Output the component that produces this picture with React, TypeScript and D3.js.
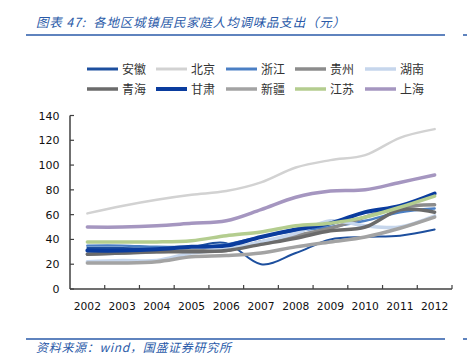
import React from "react";
import * as d3 from "d3";

const years = ["2002","2003","2004","2005","2006","2007","2008","2009","2010","2011","2012"];
const yTicks = [0, 20, 40, 60, 80, 100, 120, 140];

const anhui    = [33, 33, 33, 34, 37, 20, 29, 40, 42, 43, 48];
const beijing  = [61, 67, 72, 76, 79, 86, 98, 104, 108, 122, 129];
const zhejiang = [35, 35, 34, 34, 36, 42, 47, 50, 55, 62, 65];
const guizhou  = [28, 29, 30, 31, 31, 38, 43, 49, 58, 66, 68];
const hunan    = [22, 23, 23, 29, 32, 38, 45, 55, 51, 50, 59];
const qinghai  = [28, 29, 30, 30, 31, 36, 41, 47, 50, 64, 62];
const gansu    = [31, 31, 32, 34, 35, 42, 48, 53, 62, 67, 77];
const xinjiang = [21, 21, 22, 26, 27, 29, 34, 38, 42, 49, 58];
const jiangsu  = [38, 38, 38, 39, 43, 46, 51, 53, 58, 66, 75];
const shanghai = [50, 50, 51, 53, 55, 64, 74, 79, 80, 86, 92];

const seriesNames = ["安徽","北京","浙江","贵州","湖南","青海","甘肃","新疆","江苏","上海"];
const seriesValues = [anhui, beijing, zhejiang, guizhou, hunan, qinghai, gansu, xinjiang, jiangsu, shanghai];
const seriesColors = ["#1d4f9e","#d2d2d2","#4b7fc4","#8c8c8c","#c6d6ec","#6b6b6b","#0a3c9e","#a3a3a3","#b4cd8f","#a596c0"];
const seriesWidths = [2, 2.5, 2.5, 3.5, 3.5, 3.5, 4, 3.5, 3.5, 3.5];

export default function App() {
  const W = 467, H = 358;
  const x = d3.scaleBand<string>().domain(years).range([70, 452]);
  const y = d3.scaleLinear().domain([0, 140]).range([289, 115.5]);
  const line = d3.line<number>()
    .x((_, i) => (x(years[i]) as number) + x.bandwidth() / 2)
    .y((d) => y(d))
    .curve(d3.curveCardinal.tension(0));

  const blue = "#2a5aa8";
  const axisColor = "#404040";
  const tickFont = "'DejaVu Sans', Verdana, sans-serif";
  const cjk = "'Noto Sans CJK SC', sans-serif";

  const legendCols = [87, 156, 226, 295, 365];
  const legendRows = [69, 89];

  return (
    <svg width={W} height={H} style={{ position: "absolute", left: 0, top: 0, background: "#fff" }}>
      {/* title */}
      <text x={36} y={27} fontFamily={cjk} fontSize={12.5} fontStyle="italic" fill={blue}
        letterSpacing={0.8} xmlSpace="preserve">图表 47:  各地区城镇居民家庭人均调味品支出（元）</text>
      <line x1={26} x2={445} y1={35} y2={35} stroke={blue} strokeWidth={1.5} />
      <line x1={463} x2={467} y1={35} y2={35} stroke={blue} strokeWidth={1.5} />

      {/* legend */}
      {seriesNames.map((name, i) => {
        const col = i % 5, row = Math.floor(i / 5);
        const lx = legendCols[col], ly = legendRows[row];
        return (
          <g key={name}>
            <line x1={lx} x2={lx + 31} y1={ly} y2={ly} stroke={seriesColors[i]}
              strokeWidth={Math.max(seriesWidths[i], 3)} />
            <text x={lx + 35} y={ly + 4.5} fontFamily={cjk} fontSize={12} fill="#333">{name}</text>
          </g>
        );
      })}

      {/* y axis */}
      <line x1={70} x2={70} y1={y(140)} y2={y(0)} stroke={axisColor} strokeWidth={1.5} />
      {yTicks.map((t) => (
        <g key={t}>
          <line x1={70} x2={74} y1={y(t)} y2={y(t)} stroke={axisColor} strokeWidth={1.2} />
          <text x={59.5} y={y(t) + 4} textAnchor="end" fontFamily={tickFont} fontSize={11} fill="#111">{t}</text>
        </g>
      ))}

      {/* x axis */}
      <line x1={70} x2={452} y1={y(0)} y2={y(0)} stroke={axisColor} strokeWidth={1.5} />
      {years.map((yr) => (
        <line key={"t" + yr} x1={(x(yr) as number) + x.bandwidth()} x2={(x(yr) as number) + x.bandwidth()}
          y1={y(0)} y2={y(0) - 4} stroke={axisColor} strokeWidth={1.2} />
      ))}
      {years.map((yr) => (
        <text key={yr} x={(x(yr) as number) + x.bandwidth() / 2} y={310} textAnchor="middle"
          fontFamily={tickFont} fontSize={10.7} fill="#111">{yr}</text>
      ))}

      {/* series */}
      {seriesValues.map((vals, i) => (
        <path key={seriesNames[i]} d={line(vals) || ""} fill="none" stroke={seriesColors[i]}
          strokeWidth={seriesWidths[i]} strokeLinecap="round" strokeLinejoin="round" />
      ))}

      {/* footer */}
      <line x1={26} x2={445} y1={339} y2={339} stroke={blue} strokeWidth={1.5} />
      <line x1={463} x2={467} y1={339} y2={339} stroke={blue} strokeWidth={1.5} />
      <text x={36} y={352} fontFamily={cjk} fontSize={12} fontStyle="italic" fill={blue}
        letterSpacing={0.7}>资料来源：wind，国盛证券研究所</text>
    </svg>
  );
}
